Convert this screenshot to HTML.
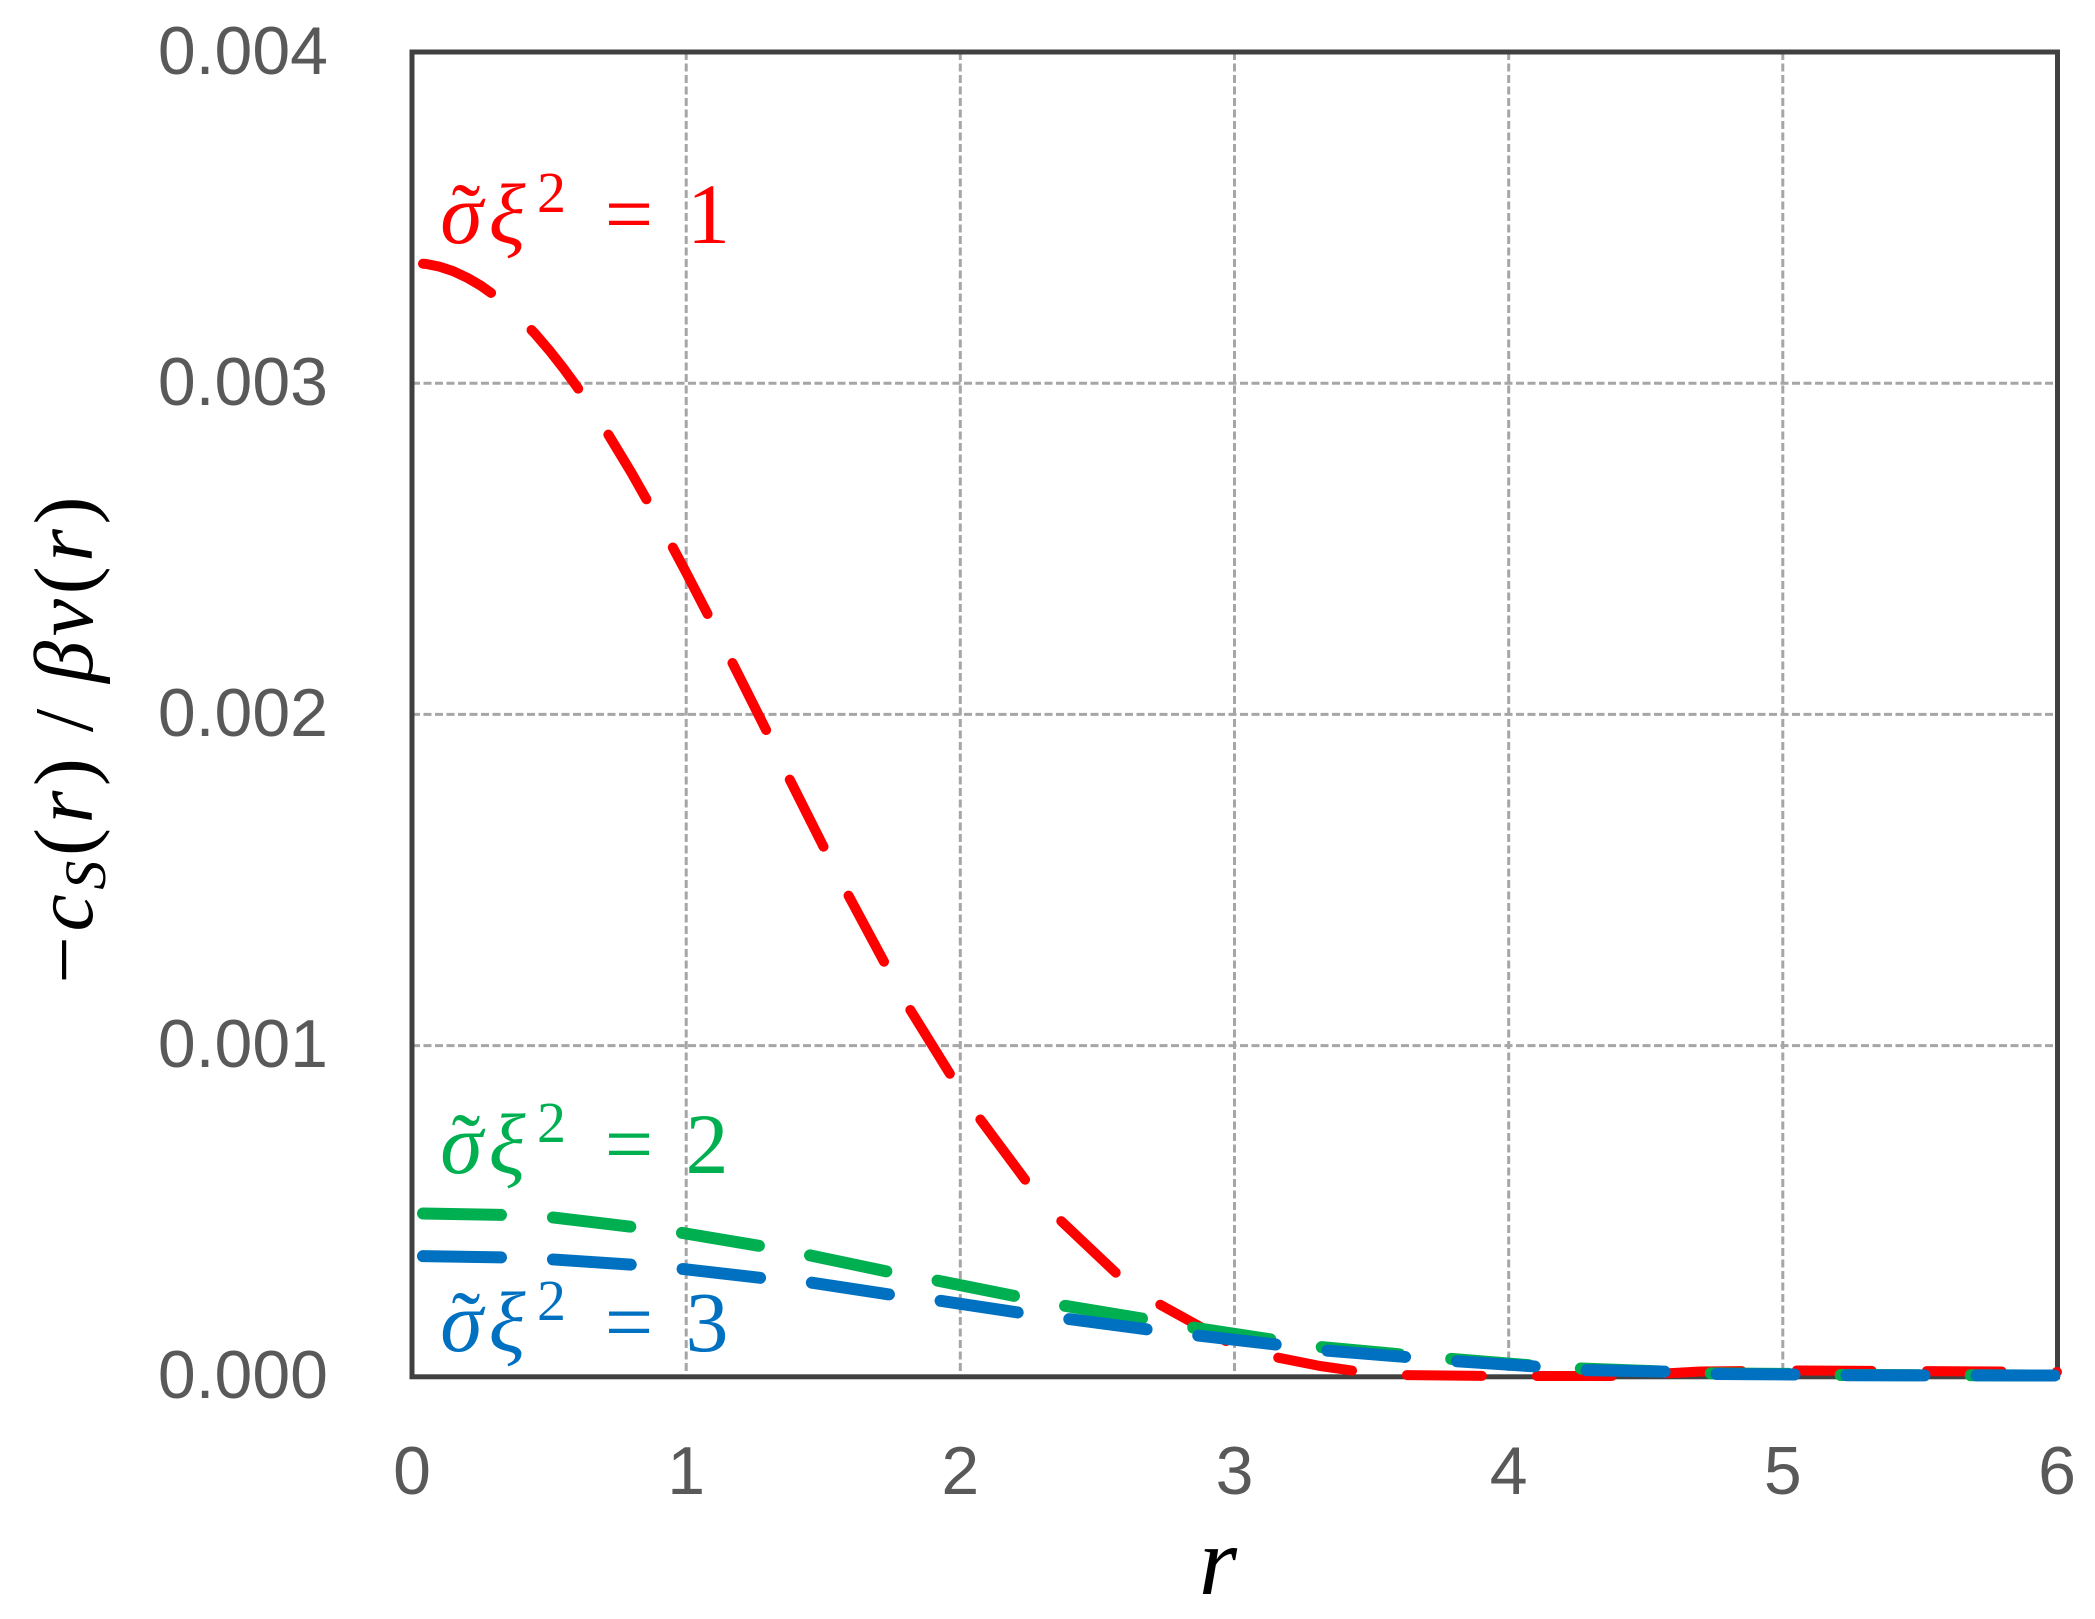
<!DOCTYPE html>
<html>
<head>
<meta charset="utf-8">
<style>
  html, body { margin: 0; padding: 0; background: #ffffff; }
  body { width: 2095px; height: 1619px; overflow: hidden; }
  svg { display: block; }
</style>
</head>
<body>
<svg width="2095" height="1619" viewBox="0 0 2095 1619" xmlns="http://www.w3.org/2000/svg">
  <rect x="0" y="0" width="2095" height="1619" fill="#ffffff"/>

  <!-- gridlines -->
  <g stroke="#a6a6a6" stroke-width="3" stroke-dasharray="8 3.5" fill="none">
    <line x1="412" y1="1045.6" x2="2057" y2="1045.6"/>
    <line x1="412" y1="714.4" x2="2057" y2="714.4"/>
    <line x1="412" y1="383.2" x2="2057" y2="383.2"/>
    <line x1="686.2" y1="52" x2="686.2" y2="1376"/>
    <line x1="960.3" y1="52" x2="960.3" y2="1376"/>
    <line x1="1234.5" y1="52" x2="1234.5" y2="1376"/>
    <line x1="1508.7" y1="52" x2="1508.7" y2="1376"/>
    <line x1="1782.8" y1="52" x2="1782.8" y2="1376"/>
  </g>

  <!-- frame -->
  <rect x="412" y="52" width="1645.5" height="1324.8" fill="none" stroke="#404040" stroke-width="5"/>

  <!-- series -->
  <g fill="none" stroke-linecap="round" stroke-linejoin="round">
    <path stroke="#ff0000" stroke-width="10" stroke-dasharray="75 55" stroke-dashoffset="-11"
      d="M412,263 L425.7,263.9 L439.4,266.6 L453.1,271.1 L466.9,277.6 L480.6,285.5 L494.3,295.2 L508,306.6 L521.7,319.6 L535.4,334.1 L549.2,350.2 L562.9,367.6 L576.6,386.3 L590.3,406.3 L604,427.4 L631.4,472.7 L658.9,521.4 L686.3,572.8 L713.7,625.9 L741.2,680.2 L768.5,734.8 L788.3,776.7 L826,851.7 L847.3,893.3 L886.7,966.7 L908.3,1006.7 L952.7,1078.3 L978.3,1116.7 L1028.3,1184 L1058.3,1218.3 L1120,1276.7 L1156.7,1302.7 L1230,1343.3 L1273.3,1356.7 L1320,1366 L1359.7,1371.7 L1399.5,1375 L1489,1376 L1618,1376 L1700,1371.5 L1800,1370.5 L1900,1371 L2000,1371.5 L2057,1372"/>
    <path stroke="#00b050" stroke-width="12" stroke-dasharray="78 52" stroke-dashoffset="-11"
      d="M412,1213.3 L507,1215 L546.4,1216.7 L635.7,1227.3 L675,1231.7 L764.3,1246.7 L803.6,1254 L892.9,1272.7 L932,1279.5 L1018.3,1296.7 L1060,1305 L1146.7,1319.3 L1187.3,1326.7 L1275,1340 L1316.7,1346.7 L1407,1355 L1444,1358.3 L1538.8,1366 L1576,1368.3 L1668,1371.7 L1705.5,1373.3 L1797.5,1374 L1835,1375 L2057,1375.5"/>
    <path stroke="#0070c0" stroke-width="12" stroke-dasharray="78 52" stroke-dashoffset="-11"
      d="M412,1256 L507,1257.5 L546.4,1259 L635.7,1265 L676.8,1268.3 L764.3,1278.3 L805.4,1281.7 L892.9,1295 L935,1300 L1023.3,1313.3 L1063.3,1318.3 L1151.7,1330 L1193.3,1335 L1280,1345 L1320,1350 L1409.5,1357.3 L1449,1360.7 L1538.8,1366.7 L1578.6,1370 L1668,1371.7 L1708,1374 L1797.5,1374.5 L1837,1375.3 L2057,1375.5"/>
  </g>

  <!-- y tick labels -->
  <g font-family="'Liberation Sans', Arial, sans-serif" font-size="68" fill="#595959" text-anchor="end">
    <text x="328" y="74">0.004</text>
    <text x="328" y="405">0.003</text>
    <text x="328" y="736">0.002</text>
    <text x="328" y="1067">0.001</text>
    <text x="328" y="1398">0.000</text>
  </g>

  <!-- x tick labels -->
  <g font-family="'Liberation Sans', Arial, sans-serif" font-size="68" fill="#595959" text-anchor="middle">
    <text x="412" y="1494">0</text>
    <text x="686.2" y="1494">1</text>
    <text x="960.3" y="1494">2</text>
    <text x="1234.5" y="1494">3</text>
    <text x="1508.7" y="1494">4</text>
    <text x="1782.8" y="1494">5</text>
    <text x="2057" y="1494">6</text>
  </g>

  <!-- x axis title -->
  <text x="1218" y="1594" font-family="'Liberation Serif', serif" font-size="98" font-style="italic" text-anchor="middle" fill="#000000">r</text>

  <!-- y axis title -->
  <text transform="translate(92,740) rotate(-90)" font-family="'Liberation Serif', serif" font-size="84" fill="#000000" text-anchor="middle" textLength="487" lengthAdjust="spacing">−<tspan font-style="italic">c</tspan><tspan font-style="italic" font-size="58" dy="13">S</tspan><tspan dy="-13">(</tspan><tspan font-style="italic">r</tspan>)&#8201;/&#8201;<tspan font-style="italic">βv</tspan>(<tspan font-style="italic">r</tspan>)</text>

  <!-- annotations -->
  <g font-family="'Liberation Serif', serif" text-anchor="middle">
    <!-- red -->
    <g fill="#ff0000">
      <text x="461.5" y="243" font-size="86" font-style="italic">σ</text>
      <text x="466" y="243" font-size="86">˜</text>
      <text x="507" y="243" font-size="86" font-style="italic">ξ</text>
      <text x="551.5" y="212" font-size="58">2</text>
      <text x="629" y="243" font-size="86">=</text>
      <text x="708.5" y="243" font-size="86">1</text>
    </g>
    <!-- green -->
    <g fill="#00b050">
      <text x="461.5" y="1173" font-size="86" font-style="italic">σ</text>
      <text x="466" y="1173" font-size="86">˜</text>
      <text x="507" y="1173" font-size="86" font-style="italic">ξ</text>
      <text x="551.5" y="1142" font-size="58">2</text>
      <text x="629" y="1173" font-size="86">=</text>
      <text x="707" y="1173" font-size="86">2</text>
    </g>
    <!-- blue -->
    <g fill="#0070c0">
      <text x="461.5" y="1351" font-size="86" font-style="italic">σ</text>
      <text x="466" y="1351" font-size="86">˜</text>
      <text x="507" y="1351" font-size="86" font-style="italic">ξ</text>
      <text x="551.5" y="1320" font-size="58">2</text>
      <text x="629" y="1351" font-size="86">=</text>
      <text x="707" y="1351" font-size="86">3</text>
    </g>
  </g>
</svg>
</body>
</html>
